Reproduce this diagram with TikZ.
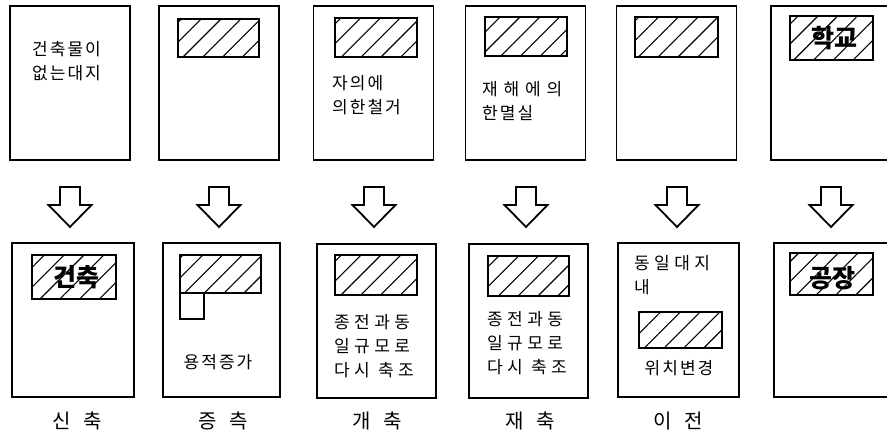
\documentclass[tikz,border=0pt]{standalone}
\usepackage{fontspec}
\newfontfamily\kor[LetterSpace=12]{Noto Sans CJK KR}
\newfontfamily\korwide[LetterSpace=26]{Noto Sans CJK KR}
\newfontfamily\korhead{Noto Sans CJK KR}
\usetikzlibrary{patterns.meta}

\begin{document}
\begin{tikzpicture}[
x=1pt, y=-1pt,
page/.style={draw, line width=1.8pt, minimum width=120pt, minimum height=154pt, inner sep=0pt},
hatch/.style={draw, line width=1.8pt, pattern={Lines[angle=45, distance=14pt, line width=1.1pt]}, minimum width=82pt, minimum height=40pt, inner sep=0pt},
note/.style={font=\kor\fontsize{17}{24}\selectfont, align=left, inner sep=0pt},
widenote/.style={font=\korwide\fontsize{17}{24}\selectfont, align=left, inner sep=0pt},
caption/.style={font=\kor\fontsize{20}{22}\selectfont, inner sep=0pt},
stamp/.style={font=\korhead\bfseries\fontsize{25}{25}\selectfont, inner sep=0pt},
downarrow/.pic={\draw[line width=1.8pt, line join=miter] (-10,0) -- (10,0) -- (10,18) -- (21.5,18) -- (0,40) -- (-21.5,18) -- (-10,18) -- cycle;}
]
\clip (0,0) rectangle (887,438);

% before
\node[page] (old1) at (70,83) {};
\node[page] (old2) at (219,83) {};
\node[page] (old3) at (373.5,83) {};
\node[page] (old4) at (525.5,83) {};
\node[page] (old5) at (676.5,83) {};
\node[page] (old6) at (831,83) {};

\node[hatch, minimum width=81pt, minimum height=38pt] (oldh2) at (218.5,38) {};
\node[hatch, minimum height=39pt] (oldh3) at (376,37.5) {};
\node[hatch, minimum height=39pt] (oldh4) at (526,36.5) {};
\node[hatch, minimum width=83pt] (oldh5) at (676.5,37) {};
\node[hatch, minimum width=83pt, minimum height=44pt] (oldh6) at (831.5,38) {};

\node[note, anchor=west] (oldt1) at (32,61.5) {건축물이\\없는대지};
\node[note, anchor=west] (oldt3) at (332,95) {자의에\\의한철거};
\node[note, anchor=west] (oldt4) at (482,101.5) {재 해 에 의\\한멸실};
\node[stamp] (olds6) at (834,38.5) {학교};

% arrows
\pic (arr1) at (70,187) {downarrow};
\pic (arr2) at (219,187) {downarrow};
\pic (arr3) at (374,187) {downarrow};
\pic (arr4) at (526,187) {downarrow};
\pic (arr5) at (677,187) {downarrow};
\pic (arr6) at (831,187) {downarrow};

% after
\node[page, minimum width=122pt] (new1) at (73,320) {};
\node[page, minimum width=117pt] (new2) at (221.5,320) {};
\node[page, minimum width=119pt] (new3) at (376.5,321) {};
\node[page, minimum width=119pt] (new4) at (528.5,321) {};
\node[page, minimum width=121pt] (new5) at (678.5,320) {};
\node[page] (new6) at (834,320) {};

\node[hatch, minimum width=84pt, minimum height=44pt] (newh1) at (74,277) {};
\node[hatch, minimum width=81pt, minimum height=38pt] (newh2) at (220.5,274) {};
\node[draw, line width=1.8pt, minimum width=24pt, minimum height=26pt, inner sep=0pt] (newbox2) at (192,306) {};
\node[hatch] (newh3) at (376,275) {};
\node[hatch, minimum width=81pt] (newh4) at (528.5,276) {};
\node[hatch, minimum width=83pt, minimum height=36pt] (newh5) at (680.5,330) {};
\node[hatch, minimum width=83pt, minimum height=42pt] (newh6) at (831.5,274) {};

\node[stamp] (news1) at (76.5,277.5) {건축};
\node[note] (newt2) at (218,362) {용적증가};
\node[widenote, anchor=west] (newt3) at (334,346.5) {종전과동\\일규모로\\다시 축조};
\node[widenote, anchor=west] (newt4) at (487,343.5) {종전과동\\일규모로\\다시 축조};
\node[widenote, anchor=west] (newt5) at (634,275.5) {동일대지\\내};
\node[note] (newu5) at (679,368) {위치변경};
\node[stamp] (news6) at (832,278) {공장};

% captions
\node[caption] (cap1) at (77,421) {신\hspace{12pt}축};
\node[caption] (cap2) at (223,421) {증\hspace{12pt}측};
\node[caption] (cap3) at (377,421) {개\hspace{12pt}축};
\node[caption] (cap4) at (530,421) {재\hspace{12pt}축};
\node[caption] (cap5) at (678,421) {이\hspace{12pt}전};

\end{tikzpicture}
\end{document}
